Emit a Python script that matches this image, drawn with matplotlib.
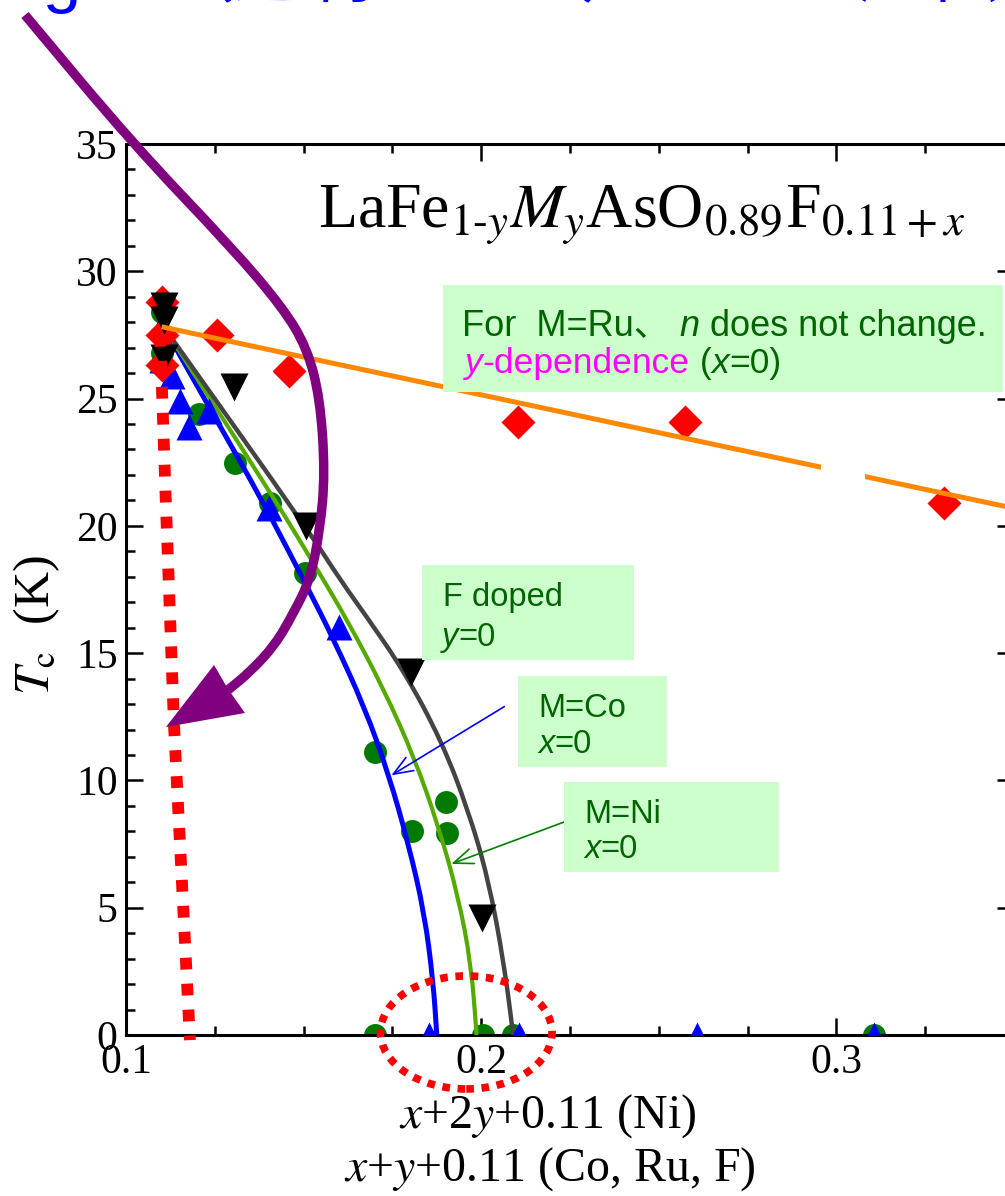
import matplotlib
matplotlib.use("Agg")
import matplotlib.pyplot as plt
from matplotlib.patches import Rectangle, Ellipse, Polygon, PathPatch
from matplotlib.path import Path
from matplotlib.transforms import Affine2D
from matplotlib.ticker import MultipleLocator, FuncFormatter

W, H = 1005, 1196

# ---- data ---------------------------------------------------------------
# F doped (y = 0): green circles
f_x = [0.110, 0.110, 0.1205, 0.1306, 0.1404, 0.1503, 0.1702, 0.1806, 0.1902, 0.1904,
       0.1702, 0.2006, 0.2090, 0.3107]
f_tc = [28.4, 26.8, 24.4, 22.45, 20.9, 18.13, 11.13, 8.02, 9.16, 7.94, 0, 0, 0, 0]
# M = Co: blue up-triangles
co_x = [0.110, 0.110, 0.1129, 0.1152, 0.1177, 0.1233, 0.1402, 0.1601, 0.1854, 0.2107,
        0.2607, 0.3107]
co_tc = [27.9, 26.5, 25.9, 24.9, 23.9, 24.5, 20.7, 16.04, 0, 0, 0, 0]
# M = Ru: red diamonds
ru_x = [0.110, 0.110, 0.110, 0.1256, 0.1458, 0.2104, 0.2573, 0.3303]
ru_tc = [28.8, 27.5, 26.3, 27.5, 26.07, 24.07, 24.07, 20.9]
# M = Ni: black down-triangles
ni_x = [0.1107, 0.1107, 0.1107, 0.1303, 0.1508, 0.1803, 0.2003]
ni_tc = [28.63, 28.1, 26.6, 25.44, 19.98, 14.27, 4.6]

# guide curves
co_fit_x = [0.1107, 0.1253, 0.1382, 0.1514, 0.1582, 0.1671, 0.1740, 0.1795, 0.1840, 0.1865, 0.1875]
co_fit_tc = [27.8, 24.2, 21.04, 17.5, 15.61, 12.9, 10.22, 7.51, 4.8, 2.08, 0]
f_fit_x = [0.1107, 0.1419, 0.1537, 0.1622, 0.1725, 0.1812, 0.1880, 0.1935, 0.1972, 0.1987]
f_fit_tc = [27.8, 21.04, 18.32, 16.32, 13.61, 10.89, 8.18, 5.47, 2.75, 0]
ni_fit_x = [0.1107, 0.1514, 0.1607, 0.1671, 0.1784, 0.1888, 0.1963, 0.2020, 0.2065, 0.2090]
ni_fit_tc = [27.8, 19.8, 17.8, 16.56, 14.27, 11.56, 8.85, 6.13, 2.75, 0]
ru_fit_x = [0.1107, 0.35]
ru_fit_tc = [27.8, 20.69]
red_dot_x = [0.1096, 0.1112, 0.1135, 0.1180]
red_dot_tc = [27.5, 21.0, 12.2, -0.2]

# purple hand-drawn arrow (pixels from the top-left)
arrow_px = [(25, 15), (133, 144), (233, 249), (283, 308), (307, 348), (320, 398),
            (325, 473), (320, 530), (310, 580), (293, 614), (275, 645), (250, 672), (228, 690)]
head_px = [(166, 727), (214, 665), (228, 689), (245, 713)]

SANS = ["Liberation Sans", "Noto Sans CJK JP"]
DKGREEN = "#006400"
BOXFILL = "#ccffcc"

plt.rcParams["font.family"] = ["Liberation Serif", "DejaVu Serif"]
plt.rcParams["mathtext.fontset"] = "stix"

fig = plt.figure(figsize=(W / 100, H / 100), dpi=100)
ax = fig.add_axes([126 / W, 161 / H, 888 / W, 891 / H])
PX = Affine2D().scale(1 / W, -1 / H).translate(0, 1) + fig.transFigure


def smooth(pts):
    """Quadratic path through the midpoints of the traced points."""
    verts = [pts[0], ((pts[0][0] + pts[1][0]) / 2, (pts[0][1] + pts[1][1]) / 2)]
    codes = [Path.MOVETO, Path.LINETO]
    for i in range(1, len(pts) - 1):
        a, b = pts[i], pts[i + 1]
        verts += [a, ((a[0] + b[0]) / 2, (a[1] + b[1]) / 2)]
        codes += [Path.CURVE3, Path.CURVE3]
    verts.append(pts[-1])
    codes.append(Path.LINETO)
    return Path(verts, codes)


# markers
ax.plot(f_x, f_tc, "o", color="#007a00", ms=16.5, mec="none", zorder=2)
ax.plot(co_x, co_tc, "^", color="#0000ff", ms=19, mec="none", zorder=4)
ax.plot(ru_x, ru_tc, "D", color="#ff0000", ms=17, mec="none", zorder=4)
ax.plot(ni_x, ni_tc, "v", color="black", ms=20, mec="none", zorder=4)

# curves
for xs, ys, c, lw in [(co_fit_x, co_fit_tc, "#0000ff", 3.6),
                      (f_fit_x, f_fit_tc, "#55aa00", 3.0),
                      (ni_fit_x, ni_fit_tc, "#444444", 3.2)]:
    ax.add_patch(PathPatch(smooth(list(zip(xs, ys))), fill=False, ec=c, lw=lw,
                           capstyle="butt", zorder=3))
ax.plot(ru_fit_x, ru_fit_tc, color="#ff8800", lw=3.6, zorder=5)
ax.add_patch(Rectangle((0.2958, 21.4), 0.0123, 2.2, fc="white", ec="none", zorder=5.5))

ax.plot(red_dot_x, red_dot_tc, color="#ff0000", lw=8.5, ls=(0, (1, 1.2)),
        zorder=7, clip_on=False)
ax.add_patch(Ellipse((0.1958, 0.1), 0.0483, 4.44, fill=False, ec="#ff0000", lw=5.5,
                     ls=(0, (1, 1.0)), zorder=7, clip_on=False))

# thin pointer arrows
ax.annotate("", xy=(0.1747, 10.2), xytext=(0.2065, 12.9),
            arrowprops=dict(arrowstyle="->,head_length=1.4,head_width=0.55",
                            color="#0000ff", lw=1.2, shrinkA=0, shrinkB=0), zorder=8)
ax.annotate("", xy=(0.1916, 6.72), xytext=(0.2236, 8.38),
            arrowprops=dict(arrowstyle="->,head_length=1.4,head_width=0.55",
                            color="#008000", lw=1.2, shrinkA=0, shrinkB=0), zorder=8)

# axes cosmetics
ax.set_xlim(0.1, 0.35)
ax.set_ylim(0, 35)
ax.xaxis.set_major_locator(MultipleLocator(0.1))
ax.xaxis.set_minor_locator(MultipleLocator(0.025))
ax.yaxis.set_major_locator(MultipleLocator(5))
ax.yaxis.set_minor_locator(MultipleLocator(1))
ax.xaxis.set_major_formatter(FuncFormatter(lambda v, p: f"{v:.1f}"))
ax.tick_params(which="both", direction="in", top=True, right=True, width=1.8,
               labelsize=30)
ax.tick_params(which="major", length=12, pad=6)
ax.tick_params(which="minor", length=6.5)
for s in ax.spines.values():
    s.set_linewidth(2.2)

ax.set_ylabel(r"$T_{\rm c}$  (K)", fontsize=36)
ax.yaxis.set_label_coords(-0.072, 0.46)
fig.text(548 / W, 1 - 1128 / H, r"$x$+2$y$+0.11 (Ni)", fontsize=34.5, ha="center",
         va="baseline")
fig.text(550 / W, 1 - 1181 / H, r"$x$+$y$+0.11 (Co, Ru, F)", fontsize=34.5, ha="center",
         va="baseline")
fig.text(318 / W, 1 - 228 / H,
         r"LaFe$_{1\text{-}y}M_y$AsO$_{0.89}$F$_{0.11+x}$", fontsize=46, va="baseline")

# slide title, mostly cut off by the top edge
fig.text(82 / W, 1 - 14 / H, "Overdoping", color="#0000ff", fontsize=50, family=SANS,
         ha="right", va="bottom")
fig.text(165 / W, 1 - 10 / H, "（過剰ドープ）による超伝導消失の起源", color="#0000ff",
         fontsize=50, family=SANS, ha="left", va="bottom")

# green note boxes (pixel rectangles)
for x0, y0, x1, y1 in [(443, 285, 1003, 392), (422, 565, 634, 660),
                       (518, 676, 667, 767), (564, 782, 779, 872)]:
    fig.add_artist(Rectangle((x0, y1), x1 - x0, y0 - y1, transform=PX,
                             fc=BOXFILL, ec="none", zorder=5))

renderer = fig.canvas.get_renderer()


def put_runs(x, y, parts, size):
    for txt, color, style in parts:
        t = fig.text(x / W, 1 - y / H, txt, color=color, fontsize=size, fontstyle=style,
                     family=SANS, ha="left", va="baseline", zorder=6)
        x += t.get_window_extent(renderer).width


put_runs(462, 336, [("For  M=Ru、", DKGREEN, "normal"), (" n", DKGREEN, "italic"),
                    (" does not change.", DKGREEN, "normal")], 26)
put_runs(465, 373, [("y", "#ff00ff", "italic"), ("-dependence", "#ff00ff", "normal"),
                    (" (", DKGREEN, "normal"), ("x", DKGREEN, "italic"),
                    ("=0)", DKGREEN, "normal")], 25.5)
put_runs(443, 606, [("F doped", DKGREEN, "normal")], 23.5)
put_runs(442, 646, [("y", DKGREEN, "italic"), ("=0", DKGREEN, "normal")], 23.5)
put_runs(538, 717, [("M=Co", DKGREEN, "normal")], 23.5)
put_runs(538, 753, [("x", DKGREEN, "italic"), ("=0", DKGREEN, "normal")], 23.5)
put_runs(584, 823, [("M=Ni", DKGREEN, "normal")], 23.5)
put_runs(584, 858, [("x", DKGREEN, "italic"), ("=0", DKGREEN, "normal")], 23.5)

# purple arrow
fig.add_artist(PathPatch(smooth(arrow_px), transform=PX, fill=False, ec="#800080",
                         lw=6.8, capstyle="butt", zorder=9))
fig.add_artist(Polygon(head_px, closed=True, transform=PX, fc="#800080", ec="none",
                       zorder=9))

fig.savefig("out.png", dpi=100)
